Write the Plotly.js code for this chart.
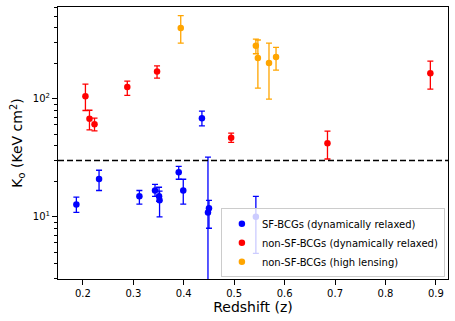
<!DOCTYPE html>
<html>
<head>
<meta charset="utf-8">
<script src="https://cdn.plot.ly/plotly-3.0.1.min.js"></script>
<style>
  html, body { margin: 0; padding: 0; background: #fff; }
  #plot { width: 455px; height: 321px; }
</style>
</head>
<body>
<div id="plot"></div>
<script>
// SF-BCGs (dynamically relaxed)
const sfX  = [0.187, 0.232, 0.312, 0.343, 0.351, 0.352, 0.390, 0.399, 0.436, 0.448, 0.450, 0.543];
const sfY  = [12.7, 20.9, 14.9, 16.7, 14.9, 13.8, 23.8, 16.7, 68.5, 10.9, 11.8, 10.0];
const sfHi = [14.7, 24.8, 16.7, 18.8, 17.8, 16.5, 26.8, 20.8, 78.6, 32.0, 13.8, 14.9];
const sfLo = [10.9, 16.7, 12.8, 14.9, 13.5, 10.0, 20.8, 12.8, 59.0, 0, 8.0, 4.9];

// non-SF-BCGs (dynamically relaxed)
const nsfX  = [0.205, 0.213, 0.223, 0.288, 0.347, 0.494, 0.685, 0.889];
const nsfY  = [105, 67.6, 61, 126, 170, 46.7, 42.1, 165];
const nsfHi = [133, 80, 68.5, 141, 190, 51.2, 53.2, 209];
const nsfLo = [79.6, 54.6, 53.5, 107, 150, 42.8, 30.9, 121];

// non-SF-BCGs (high lensing)
const lensX  = [0.394, 0.543, 0.547, 0.569, 0.583];
const lensY  = [399, 282, 222, 201, 226];
const lensHi = [507, 321, 315, 297, 273];
const lensLo = [297, 241, 123, 99.4, 175];

const threshold = 30;

function series(name, x, y, hi, lo, color) {
  return {
    type: 'scatter',
    mode: 'markers',
    name: name,
    x: x,
    y: y,
    marker: {color: color, size: 6.5},
    error_y: {
      type: 'data',
      symmetric: false,
      array: y.map((v, i) => hi[i] - v),
      arrayminus: y.map((v, i) => v - lo[i]),
      color: color,
      thickness: 1.3,
      width: 3
    }
  };
}

const data = [
  series('SF-BCGs (dynamically relaxed)', sfX, sfY, sfHi, sfLo, '#0000ff'),
  series('non-SF-BCGs (dynamically relaxed)', nsfX, nsfY, nsfHi, nsfLo, '#ff0000'),
  series('non-SF-BCGs (high lensing)', lensX, lensY, lensHi, lensLo, '#ffa500')
];

// minor ticks on the log axis
let minorVals = [];
[1, 10, 100].forEach(d => {
  for (let k = 2; k <= 9; k++) minorVals.push(k * d);
});

const layout = {
  width: 455,
  height: 321,
  margin: {l: 58, r: 7, t: 7, b: 42},
  paper_bgcolor: '#fff',
  plot_bgcolor: '#fff',
  font: {family: 'DejaVu Sans', size: 10, color: '#000'},
  showlegend: true,
  legend: {
    x: 0.992, y: 0.006, xanchor: 'right', yanchor: 'bottom',
    bgcolor: 'rgba(255,255,255,0.8)',
    bordercolor: '#cccccc', borderwidth: 1,
    font: {family: 'DejaVu Sans', size: 10, color: '#000'}
  },
  xaxis: {
    range: [0.1506, 0.924],
    tickmode: 'linear', tick0: 0.2, dtick: 0.1,
    ticks: 'outside', ticklen: 5, tickwidth: 1, tickcolor: '#000',
    showline: true, linecolor: '#000', linewidth: 1, mirror: true,
    showgrid: false, zeroline: false,
    title: {text: 'Redshift (z)', font: {size: 14}, standoff: 4}
  },
  yaxis: {
    type: 'log',
    range: [Math.log10(2.97), Math.log10(600)],
    tickmode: 'array',
    tickvals: [10, 100],
    ticktext: ['10<sup>1</sup>', '10<sup>2</sup>'],
    ticks: 'outside', ticklen: 5, tickwidth: 1, tickcolor: '#000',
    minor: {tickmode: 'array', tickvals: minorVals, ticks: 'outside', ticklen: 3, tickcolor: '#000', showgrid: false},
    showline: true, linecolor: '#000', linewidth: 1, mirror: true,
    showgrid: false, zeroline: false,
    title: {text: 'K<sub>o</sub> (KeV cm<sup>2</sup>)', font: {size: 14}, standoff: 6}
  },
  shapes: [{
    type: 'line', xref: 'paper', yref: 'y',
    x0: 0, x1: 1, y0: threshold, y1: threshold,
    line: {color: '#000', width: 1.5, dash: '6px,3px'}
  }]
};

Plotly.newPlot('plot', data, layout, {displayModeBar: false, staticPlot: true});
</script>
</body>
</html>
